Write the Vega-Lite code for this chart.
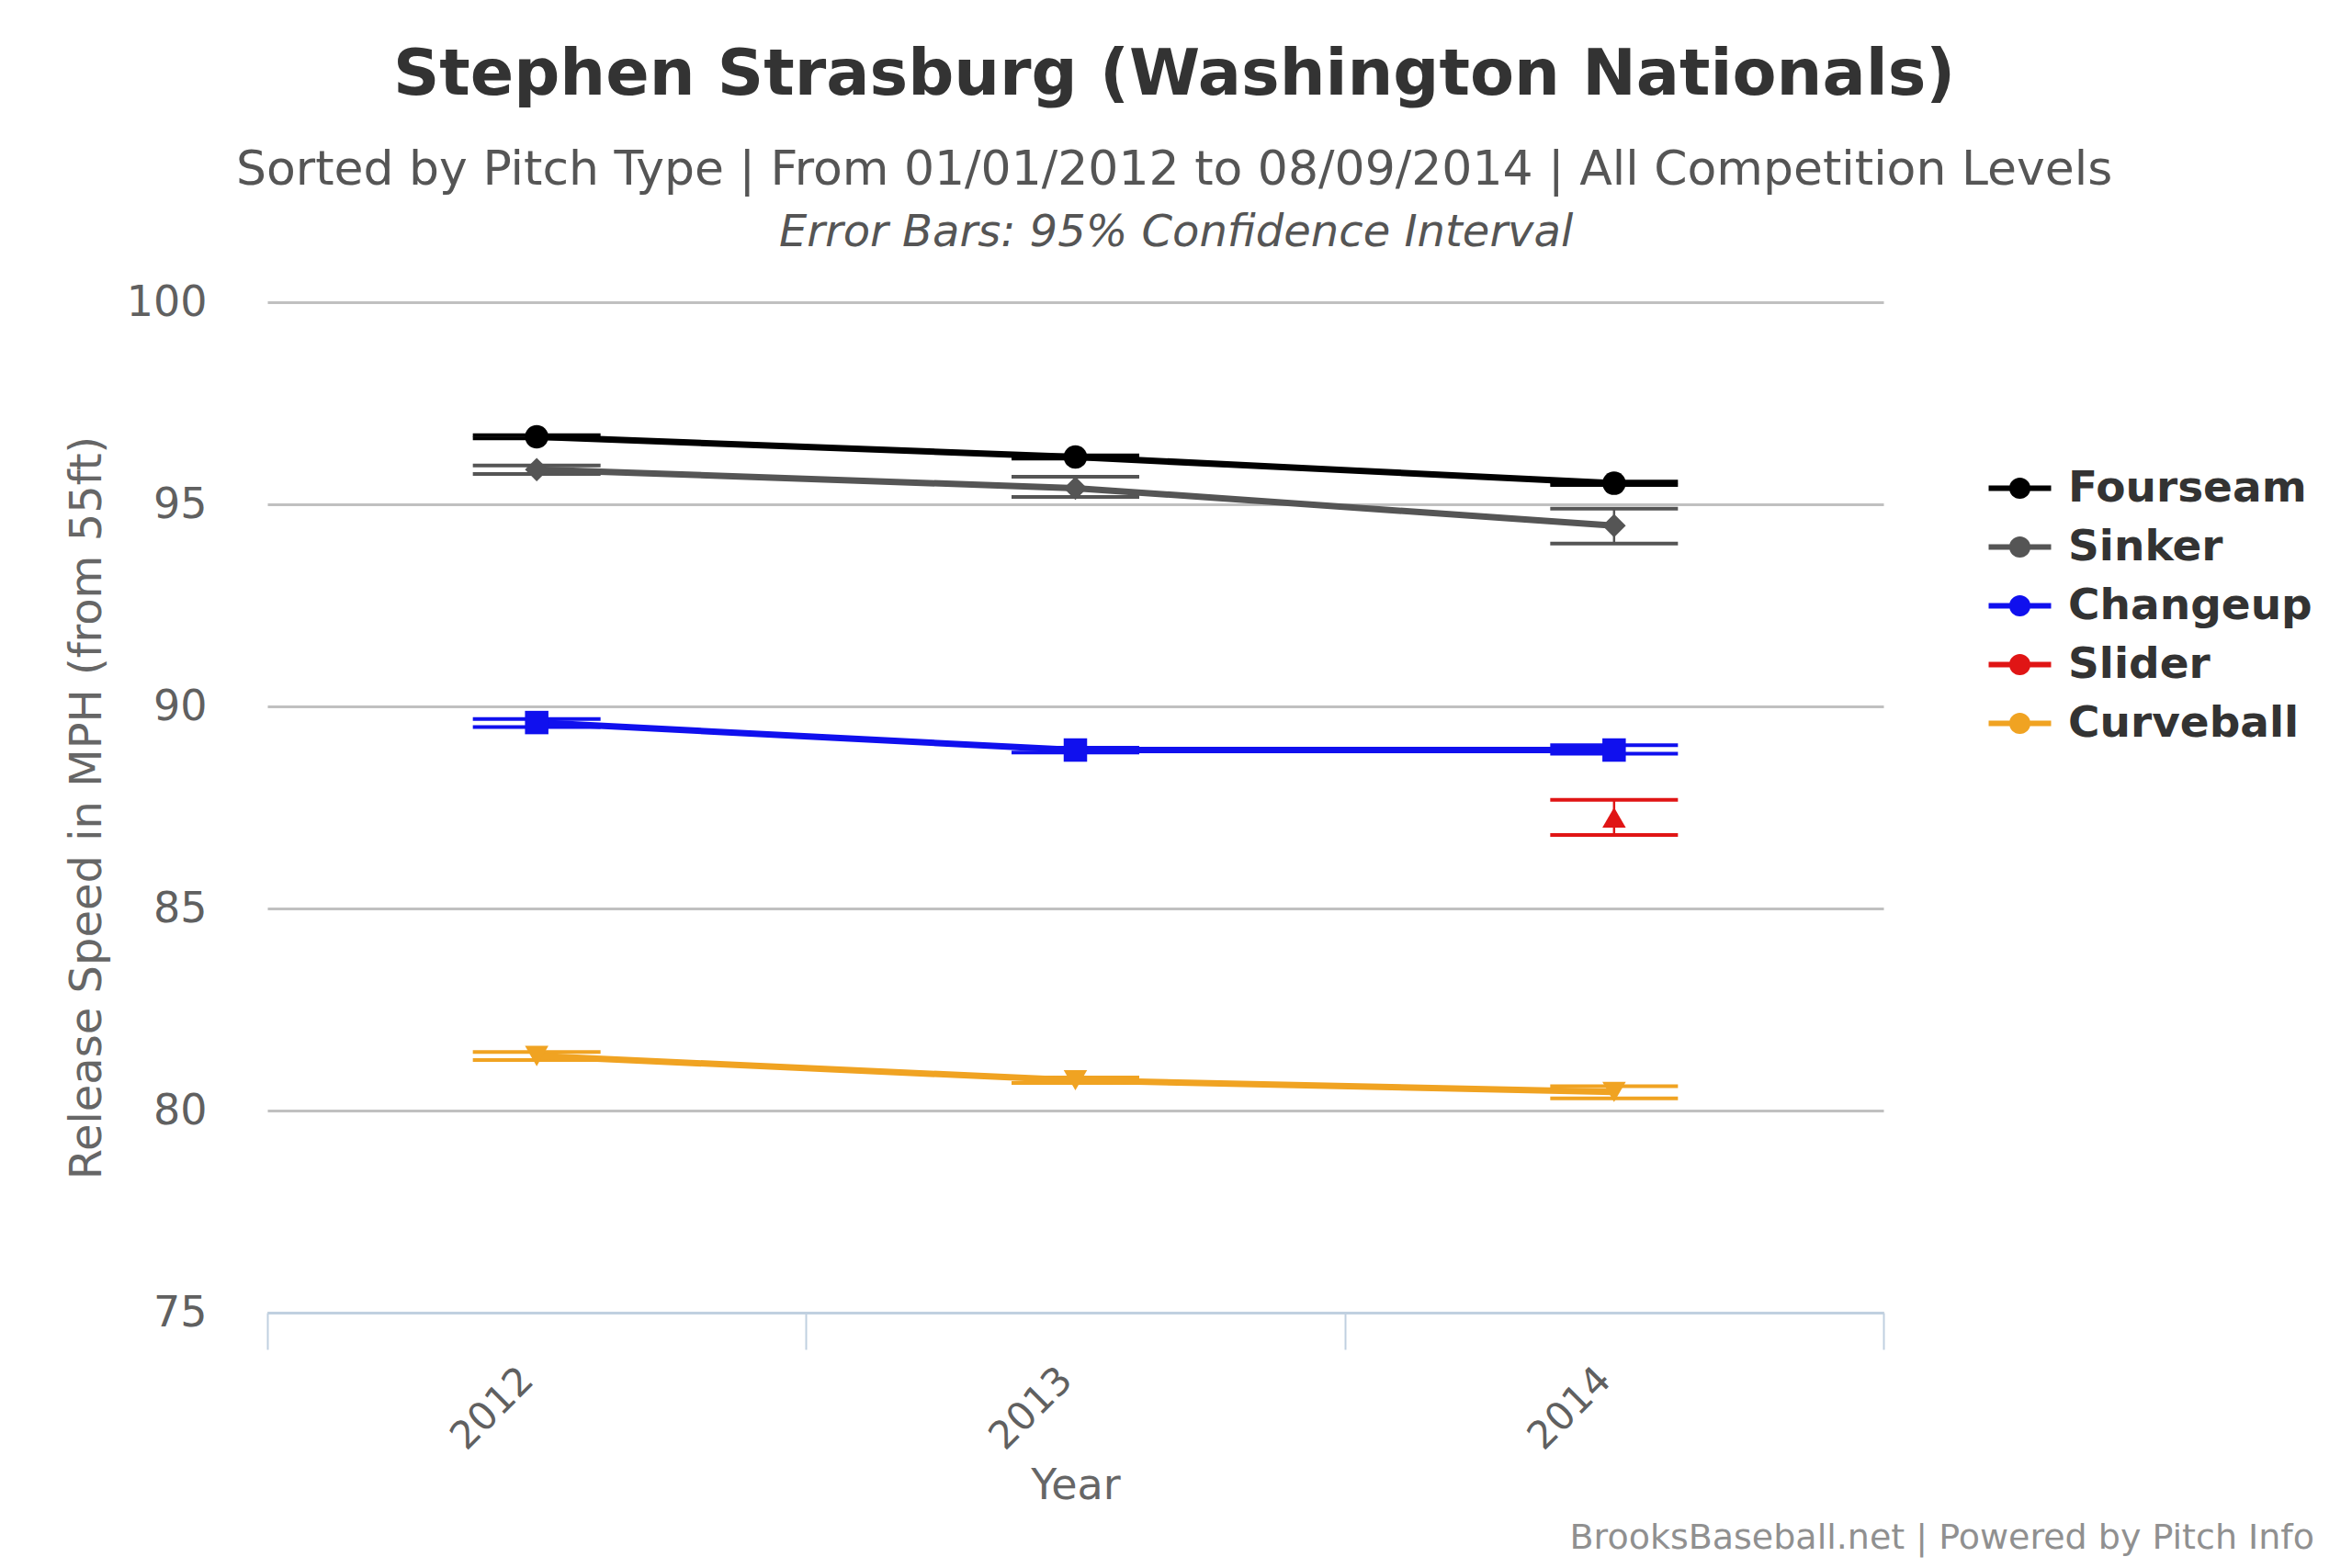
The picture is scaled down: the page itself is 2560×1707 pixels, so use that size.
{
  "$schema": "https://vega.github.io/schema/vega-lite/v6.json",
  "background": "white",
  "padding": {"left": 71, "top": 47, "right": 10, "bottom": 10},
  "title": {
    "text": "Stephen Strasburg (Washington Nationals)",
    "subtitle": "Sorted by Pitch Type | From 01/01/2012 to 08/09/2014 | All Competition Levels",
    "anchor": "middle",
    "dx": -17,
    "font": "DejaVu Sans",
    "fontSize": 70,
    "fontWeight": "bold",
    "color": "#333333",
    "subtitleFont": "DejaVu Sans",
    "subtitleFontSize": 52,
    "subtitleColor": "#555555",
    "subtitlePadding": 42,
    "offset": 18
  },
  "vconcat": [
    {
      "title": {
        "text": "Error Bars: 95% Confidence Interval",
        "anchor": "middle",
        "dx": -15,
        "font": "DejaVu Sans",
        "fontSize": 48,
        "fontStyle": "italic",
        "fontWeight": "normal",
        "color": "#555555",
        "offset": 28
      },
      "vconcat": [
        {
          "width": 1759,
          "height": 1100,
          "title": {
            "text": "BrooksBaseball.net | Powered by Pitch Info",
            "orient": "bottom",
            "anchor": "end",
            "dx": 468,
            "font": "DejaVu Sans",
            "fontSize": 38,
            "fontWeight": "normal",
            "color": "#909090",
            "offset": 15
          },
          "data": {
            "values": [
              {"pitch": "Fourseam", "year": "2012", "mph": 96.67, "lo": 96.63, "hi": 96.71},
              {"pitch": "Fourseam", "year": "2013", "mph": 96.17, "lo": 96.13, "hi": 96.21},
              {"pitch": "Fourseam", "year": "2014", "mph": 95.52, "lo": 95.48, "hi": 95.56},
              {"pitch": "Sinker", "year": "2012", "mph": 95.86, "lo": 95.75, "hi": 95.96},
              {"pitch": "Sinker", "year": "2013", "mph": 95.4, "lo": 95.18, "hi": 95.68},
              {"pitch": "Sinker", "year": "2014", "mph": 94.47, "lo": 94.03, "hi": 94.89},
              {"pitch": "Changeup", "year": "2012", "mph": 89.6, "lo": 89.49, "hi": 89.69},
              {"pitch": "Changeup", "year": "2013", "mph": 88.92, "lo": 88.86, "hi": 88.98},
              {"pitch": "Changeup", "year": "2014", "mph": 88.92, "lo": 88.83, "hi": 89.04},
              {"pitch": "Slider", "year": "2014", "mph": 87.25, "lo": 86.82, "hi": 87.69},
              {"pitch": "Curveball", "year": "2012", "mph": 81.35, "lo": 81.25, "hi": 81.45},
              {"pitch": "Curveball", "year": "2013", "mph": 80.75, "lo": 80.68, "hi": 80.82},
              {"pitch": "Curveball", "year": "2014", "mph": 80.46, "lo": 80.3, "hi": 80.6}
            ]
          },
          "encoding": {
            "x": {
              "field": "year",
              "type": "ordinal",
              "title": "Year",
              "scale": {"type": "band", "paddingInner": 0, "paddingOuter": 0},
              "axis": {
                "tickBand": "extent",
                "labelAngle": -45,
                "labelFont": "DejaVu Sans",
                "labelFontSize": 42,
                "labelColor": "#606060",
                "labelPadding": 12,
                "labelOffset": -25,
                "domainColor": "#C0D0E0",
                "domainWidth": 3,
                "tickColor": "#C0D0E0",
                "tickWidth": 2,
                "tickSize": 40,
                "titleFont": "DejaVu Sans",
                "titleFontSize": 46,
                "titleFontWeight": "normal",
                "titleColor": "#666666",
                "titlePadding": 10,
                "grid": false
              }
            },
            "color": {
              "field": "pitch",
              "type": "nominal",
              "scale": {
                "domain": ["Fourseam", "Sinker", "Changeup", "Slider", "Curveball"],
                "range": ["#000000", "#555555", "#1010EE", "#E01515", "#F0A322"]
              }
            }
          },
          "layer": [
            {
              "mark": {"type": "rule", "strokeWidth": 2.5},
              "encoding": {
                "y": {
                  "field": "lo",
                  "type": "quantitative",
                  "title": "Release Speed in MPH (from 55ft)",
                  "scale": {"domain": [75, 100], "nice": false, "zero": false},
                  "axis": {
                    "values": [75, 80, 85, 90, 95, 100],
                    "domain": false,
                    "ticks": false,
                    "grid": true,
                    "gridColor": "#C0C0C0",
                    "gridWidth": 3,
                    "labelFont": "DejaVu Sans",
                    "labelFontSize": 46,
                    "labelColor": "#606060",
                    "labelPadding": 66,
                    "titleFont": "DejaVu Sans",
                    "titleFontSize": 48,
                    "titleFontWeight": "normal",
                    "titleColor": "#666666",
                    "titlePadding": 18
                  }
                },
                "y2": {"field": "hi"}
              }
            },
            {
              "mark": {"type": "tick", "orient": "horizontal", "size": 139, "thickness": 4, "opacity": 1},
              "encoding": {"y": {"field": "lo", "type": "quantitative"}}
            },
            {
              "mark": {"type": "tick", "orient": "horizontal", "size": 139, "thickness": 4, "opacity": 1},
              "encoding": {"y": {"field": "hi", "type": "quantitative"}}
            },
            {
              "mark": {"type": "line", "strokeWidth": 7},
              "encoding": {"y": {"field": "mph", "type": "quantitative"}}
            },
            {
              "mark": {"type": "point", "filled": true, "opacity": 1, "size": 650},
              "encoding": {
                "y": {"field": "mph", "type": "quantitative"},
                "color": {
                  "field": "pitch",
                  "type": "nominal",
                  "legend": {
                    "title": null,
                    "orient": "none",
                    "legendX": 1875,
                    "legendY": 170,
                    "labelFont": "DejaVu Sans",
                    "labelFontSize": 47,
                    "labelFontWeight": "bold",
                    "labelColor": "#333333",
                    "labelOffset": 20,
                    "labelLimit": 0,
                    "symbolSize": 4225,
                    "symbolType": "M-1.046,-0.095H1.046V0.095H-1.046Z M-0.356,0A0.356,0.356 0 1,1 0.356,0A0.356,0.356 0 1,1 -0.356,0Z",
                    "symbolStrokeWidth": 0,
                    "rowPadding": 8,
                    "encode": {
                      "symbols": {
                        "size": {"value": 4225},
                        "strokeWidth": {"value": 0},
                        "opacity": {"value": 1}
                      }
                    }
                  }
                },
                "shape": {
                  "field": "pitch",
                  "type": "nominal",
                  "scale": {
                    "domain": ["Changeup", "Curveball", "Fourseam", "Sinker", "Slider"],
                    "range": ["square", "triangle-down", "circle", "diamond", "triangle-up"]
                  },
                  "legend": null
                }
              }
            }
          ]
        }
      ]
    }
  ],
  "config": {
    "view": {"stroke": null},
    "font": "DejaVu Sans"
  }
}
